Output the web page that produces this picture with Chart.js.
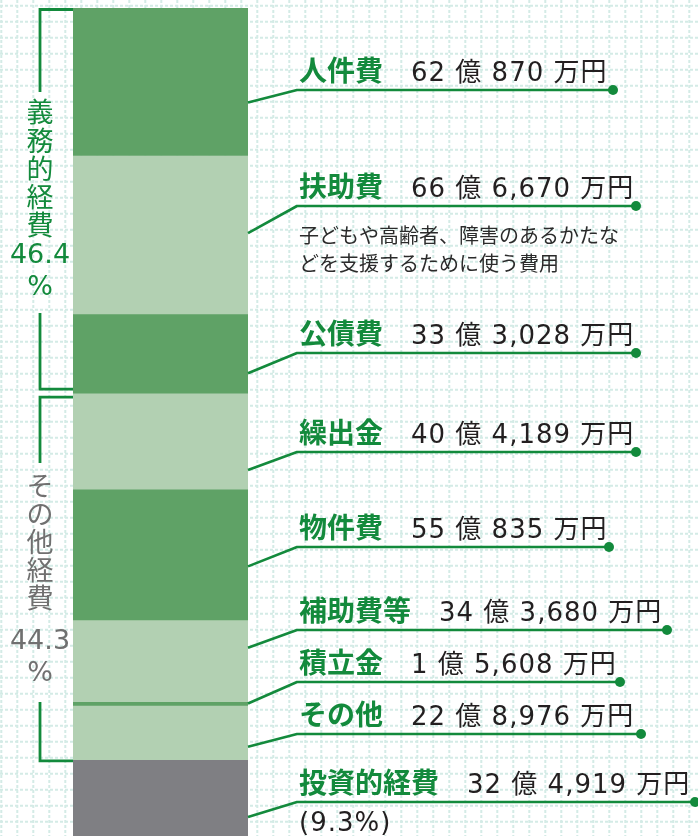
<!DOCTYPE html>
<html><head><meta charset="utf-8">
<script src="https://cdn.jsdelivr.net/npm/chart.js@4.4.1/dist/chart.umd.min.js"></script>
<style>html,body{margin:0;padding:0;background:#fff;width:698px;height:836px;overflow:hidden;}canvas{display:block}</style>
</head><body>
<canvas id="c" width="698" height="837"></canvas>
<script>
// ---- data ----
const categories = ['人件費','扶助費','公債費','繰出金','物件費','補助費等','積立金','その他','投資的経費'];
const values = [620870, 666670, 333028, 404189, 550835, 343680, 15608, 228976, 324919]; // 万円
const itemGroup = [0,0,0,1,1,1,1,1,2];
const groupNames = ['義務的経費','その他経費','投資的経費'];
const groupPercents = ['46.4','44.3','9.3'];
const notes = ['', '子どもや高齢者、障害のあるかたな|どを支援するために使う費用', '', '', '', '', '', '', ''];

// ---- styles / layout ----
const DARK = '#5fa266', LIGHT = '#b2d0b2', GRAY = '#7f7f83';
const segColors = [DARK, LIGHT, DARK, LIGHT, DARK, LIGHT, DARK, LIGHT, GRAY];
const GREEN = '#138a3c';
const underlineY = [90, 206, 353, 452, 547, 630, 682, 734, 802];
const leaderFrac = [0.64, 0.49, 0.75, 0.80, 0.59, 0.34, 0.5, 0.76, 0.74];
const dotX = [613, 636, 636, 636, 609, 667, 620, 641, 695];
const LABEL_X = 299;
const LABEL_FONT = 'bold 28px "Noto Sans CJK JP"';
const VALUE_FONT = '26px "DejaVu Sans", "Noto Sans CJK JP"';
const NOTE_FONT = '20px "Noto Sans CJK JP"';

function fmt(v){
  const oku = Math.floor(v/10000), man = v % 10000;
  return oku + ' 億 ' + man.toLocaleString('en-US') + ' 万円';
}

const gridPlugin = {
  id: 'grid',
  beforeDraw(chart){
    const ctx = chart.ctx, W = chart.width, H = chart.height;
    ctx.save();
    ctx.fillStyle = '#fff'; ctx.fillRect(0,0,W,H);
    ctx.strokeStyle = '#d4ebe6'; ctx.lineWidth = 2; ctx.setLineDash([3,2]);
    for (let x = 1.3; x < W; x += 16){ ctx.beginPath(); ctx.moveTo(x,0); ctx.lineTo(x,H); ctx.stroke(); }
    for (let y = 5.7; y < H; y += 16){ ctx.beginPath(); ctx.moveTo(0,y); ctx.lineTo(W,y); ctx.stroke(); }
    ctx.restore();
  }
};

const annoPlugin = {
  id: 'anno',
  afterDatasetsDraw(chart){
    const ctx = chart.ctx, ys = chart.scales.y, area = chart.chartArea;
    const cum = [0];
    values.forEach((v,i)=>cum.push(cum[i]+v));
    ctx.save();
    // leaders + labels
    categories.forEach((name,i)=>{
      const yl = ys.getPixelForValue(cum[i] + values[i]*leaderFrac[i]);
      const uy = underlineY[i];
      ctx.strokeStyle = GREEN; ctx.lineWidth = 2.6; ctx.lineJoin = 'round'; ctx.setLineDash([]);
      ctx.beginPath(); ctx.moveTo(area.right, yl); ctx.lineTo(297, uy); ctx.lineTo(dotX[i], uy); ctx.stroke();
      ctx.fillStyle = GREEN; ctx.beginPath(); ctx.arc(dotX[i], uy, 5, 0, Math.PI*2); ctx.fill();
      ctx.textBaseline = 'alphabetic'; ctx.textAlign = 'left';
      ctx.letterSpacing = '0px';
      ctx.font = LABEL_FONT; ctx.fillStyle = GREEN;
      ctx.fillText(name, LABEL_X, uy - 9);
      const lw = ctx.measureText(name).width;
      ctx.font = VALUE_FONT; ctx.fillStyle = '#231f20';
      ctx.letterSpacing = '1px';
      ctx.fillText(fmt(values[i]), LABEL_X + lw + 28, uy - 9);
      ctx.letterSpacing = '0px';
      if (notes[i]){
        ctx.font = NOTE_FONT; ctx.fillStyle = '#2b2b2b';
        notes[i].split('|').forEach((ln,k)=>ctx.fillText(ln, LABEL_X, uy + 37 + k*28));
      }
      if (itemGroup[i] === 2){
        ctx.font = VALUE_FONT; ctx.fillStyle = '#231f20';
        ctx.letterSpacing = '1px';
        ctx.fillText('(' + groupPercents[2] + '%)', LABEL_X, uy + 29);
        ctx.letterSpacing = '0px';
      }
    });
    // brackets
    const end0 = ys.getPixelForValue(cum[3]);
    const end1 = ys.getPixelForValue(cum[8]);
    const bx = 40;
    ctx.strokeStyle = GREEN; ctx.lineWidth = 2.8; ctx.lineJoin = 'miter';
    ctx.beginPath(); ctx.moveTo(area.left, area.top+1.5); ctx.lineTo(bx, area.top+1.5); ctx.lineTo(bx, 92); ctx.stroke();
    ctx.beginPath(); ctx.moveTo(bx, 313); ctx.lineTo(bx, end0-4); ctx.lineTo(area.left, end0-4); ctx.stroke();
    ctx.beginPath(); ctx.moveTo(area.left, end0+4); ctx.lineTo(bx, end0+4); ctx.lineTo(bx, 463); ctx.stroke();
    ctx.beginPath(); ctx.moveTo(bx, 702); ctx.lineTo(bx, end1+1); ctx.lineTo(area.left, end1+1); ctx.stroke();
    // vertical group labels
    ctx.textAlign = 'center'; ctx.textBaseline = 'middle';
    function vtext(str, cx, y0, step, color){
      ctx.font = '27px "Noto Sans CJK JP"'; ctx.fillStyle = color;
      [...str].forEach((ch,k)=>ctx.fillText(ch, cx, y0 + k*step));
    }
    vtext(groupNames[0], bx, 112, 28.3, GREEN);
    ctx.font = '27px "DejaVu Sans"';
    ctx.fillText(groupPercents[0], bx, 256); ctx.fillText('%', bx, 288);
    vtext(groupNames[1], bx, 486, 27.9, '#707070');
    ctx.font = '27px "DejaVu Sans"';
    ctx.fillText(groupPercents[1], bx, 642); ctx.fillText('%', bx, 674);
    ctx.restore();
  }
};

new Chart(document.getElementById('c'), {
  type: 'bar',
  data: {
    labels: ['歳出'],
    datasets: categories.map((name,i)=>({
      label: name, data: [values[i]], backgroundColor: segColors[i],
      borderWidth: 0, stack: 's', barPercentage: 1, categoryPercentage: 1
    }))
  },
  options: {
    responsive: false, animation: false, devicePixelRatio: 1,
    layout: { padding: { left: 73, right: 450, top: 8, bottom: 0 } },
    scales: {
      x: { stacked: true, display: false },
      y: { stacked: true, display: false, reverse: true, min: 0, max: values.reduce((a,b)=>a+b,0) }
    },
    plugins: { legend: { display: false }, tooltip: { enabled: false } }
  },
  plugins: [gridPlugin, annoPlugin]
});
</script>
</body></html>
